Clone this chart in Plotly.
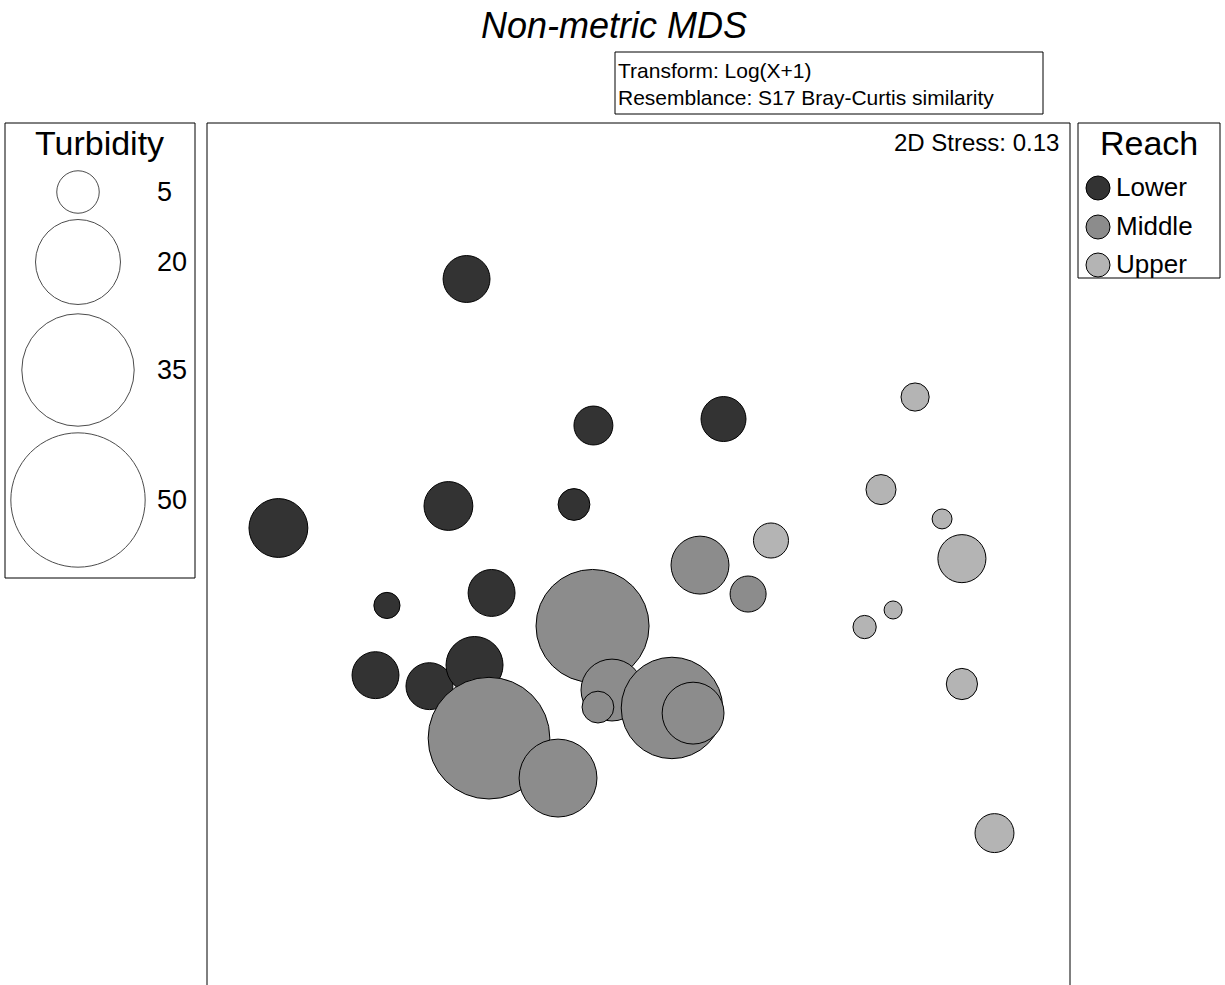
import plotly.graph_objects as go

W, H = 1225, 985

# ---------------- data (MDS coordinates, arbitrary units; turbidity values) ----------------
lower_x = [-0.797, -1.669, -0.881, -0.209, 0.394, -0.299, -1.166, -0.681, -1.219, -0.969, -0.760]
lower_y = [1.277, 0.123, 0.225, 0.598, 0.628, 0.232, -0.236, -0.178, -0.559, -0.610, -0.512]
lower_turb = [6.1, 9.6, 6.6, 4.2, 5.6, 2.8, 1.9, 6.1, 6.1, 6.1, 9.0]

middle_x = [-0.213, -0.123, -0.188, 0.155, 0.253, -0.693, -0.373, 0.285, 0.508]
middle_y = [-0.331, -0.628, -0.707, -0.711, -0.735, -0.851, -1.036, -0.049, -0.183]
middle_turb = [35.4, 10.6, 2.8, 28.5, 10.6, 41.0, 16.8, 9.3, 3.6]

upper_x = [1.282, 1.124, 1.407, 1.499, 1.180, 1.048, 1.499, 1.650, 0.614]
upper_y = [0.730, 0.301, 0.165, -0.019, -0.257, -0.336, -0.600, -1.291, 0.065]
upper_turb = [2.2, 2.5, 1.1, 6.4, 0.9, 1.5, 2.7, 4.2, 3.4]

reach_names = ["Lower", "Middle", "Upper"]
turb_legend_values = [5, 20, 35, 50]
turb_legend_labels = ["5", "20", "35", "50"]

# ---------------- styling ----------------
FONT = "Liberation Sans, Arial, sans-serif"
reach_fill = {"Lower": "#333333", "Middle": "#8c8c8c", "Upper": "#b4b4b4"}
SIZEREF = 2.0 / 361.0  # area mode: diameter = 19*sqrt(turbidity) px


def px_x(p):
    return p / W


def px_y(p):
    return 1 - p / H


fig = go.Figure()

series = [("Lower", lower_x, lower_y, lower_turb),
          ("Middle", middle_x, middle_y, middle_turb),
          ("Upper", upper_x, upper_y, upper_turb)]
for name, xs, ys, tb in series:
    fig.add_trace(go.Scatter(
        x=xs, y=ys, mode="markers", name=name, showlegend=False,
        marker=dict(size=tb, sizemode="area", sizeref=SIZEREF,
                    color=reach_fill[name], opacity=1,
                    line=dict(color="black", width=1)),
        xaxis="x", yaxis="y", hoverinfo="skip"))

# Turbidity bubble legend (own axes in pixel units of its box)
turb_rows_y = [192, 262, 370, 500]
fig.add_trace(go.Scatter(
    x=[78] * len(turb_legend_values), y=turb_rows_y, mode="markers",
    showlegend=False, hoverinfo="skip",
    marker=dict(size=turb_legend_values, sizemode="area", sizeref=SIZEREF,
                color="white", line=dict(color="black", width=1)),
    xaxis="x2", yaxis="y2"))

# Reach legend symbols
reach_rows_y = [188, 227, 265]
fig.add_trace(go.Scatter(
    x=[1098] * 3, y=reach_rows_y, mode="markers", showlegend=False, hoverinfo="skip",
    marker=dict(size=24, color=[reach_fill[n] for n in reach_names],
                line=dict(color="black", width=1)),
    xaxis="x3", yaxis="y3"))

ax_off = dict(visible=False, showgrid=False, zeroline=False, fixedrange=True)

# main plot area: x 207..1070 px, y 123..985 px
fig.update_layout(
    width=W, height=H,
    margin=dict(l=0, r=0, t=0, b=0),
    paper_bgcolor="white", plot_bgcolor="white",
    font=dict(family=FONT, color="black"),
    xaxis=dict(domain=[px_x(207), px_x(1070)], range=[-2.0, 2.0], **ax_off),
    yaxis=dict(domain=[0, px_y(123)], range=[-1.995, 2.0], **ax_off),
    xaxis2=dict(domain=[px_x(5), px_x(195)], range=[5, 195], anchor="y2", **ax_off),
    yaxis2=dict(domain=[px_y(578), px_y(123)], range=[578, 123], anchor="x2", **ax_off),
    xaxis3=dict(domain=[px_x(1078), px_x(1220)], range=[1078, 1220], anchor="y3", **ax_off),
    yaxis3=dict(domain=[px_y(278), px_y(123)], range=[278, 123], anchor="x3", **ax_off),
    title=dict(text="Non-metric MDS", x=px_x(614), xanchor="center",
               y=px_y(25), yanchor="middle",
               font=dict(family=FONT, size=36, style="italic", color="black")),
)

shapes = []
line = dict(color="black", width=1)
# main plot frame (left, top, right)
shapes.append(dict(type="line", xref="paper", yref="paper", x0=px_x(207), x1=px_x(207), y0=0, y1=px_y(123), line=line))
shapes.append(dict(type="line", xref="paper", yref="paper", x0=px_x(207), x1=px_x(1070), y0=px_y(123), y1=px_y(123), line=line))
shapes.append(dict(type="line", xref="paper", yref="paper", x0=px_x(1070), x1=px_x(1070), y0=0, y1=px_y(123), line=line))
# boxes
for (x0, y0, x1, y1) in [(615, 52, 1043, 114), (5, 123, 195, 578), (1078, 123, 1220, 278)]:
    shapes.append(dict(type="rect", xref="paper", yref="paper",
                       x0=px_x(x0), x1=px_x(x1), y0=px_y(y1), y1=px_y(y0),
                       line=line, fillcolor="rgba(0,0,0,0)"))
fig.update_layout(shapes=shapes)

ann = []
ann.append(dict(text="Transform: Log(X+1)<br>Resemblance: S17 Bray-Curtis similarity",
                xref="paper", yref="paper", x=px_x(616), y=px_y(84),
                xanchor="left", yanchor="middle", align="left", showarrow=False,
                font=dict(size=21, family=FONT)))
ann.append(dict(text="2D Stress: 0.13", xref="paper", yref="paper",
                x=px_x(1061), y=px_y(143), xanchor="right", yanchor="middle",
                showarrow=False, font=dict(size=24, family=FONT)))
ann.append(dict(text="Turbidity", xref="paper", yref="paper",
                x=px_x(100), y=px_y(143), xanchor="center", yanchor="middle",
                showarrow=False, font=dict(size=34, family=FONT)))
for lab, yy in zip(turb_legend_labels, turb_rows_y):
    ann.append(dict(text=lab, xref="x2", yref="y2", x=155, y=yy,
                    xanchor="left", yanchor="middle", showarrow=False,
                    font=dict(size=27, family=FONT)))
ann.append(dict(text="Reach", xref="paper", yref="paper",
                x=px_x(1149), y=px_y(143), xanchor="center", yanchor="middle",
                showarrow=False, font=dict(size=34, family=FONT)))
for lab, yy in zip(reach_names, reach_rows_y):
    ann.append(dict(text=lab, xref="x3", yref="y3", x=1114, y=yy - 1,
                    xanchor="left", yanchor="middle", showarrow=False,
                    font=dict(size=26, family=FONT)))
fig.update_layout(annotations=ann)

# remove the page's default body margin so the figure sits at the window origin
fig.write_html("out.html",
               config={"displayModeBar": False, "staticPlot": True},
               post_script="document.body.style.margin='0';document.body.style.padding='0';")
